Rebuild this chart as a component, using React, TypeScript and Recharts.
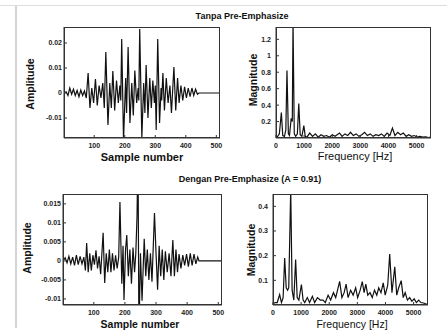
import { LineChart, Line, XAxis, YAxis } from "recharts";

// waveform extremes: [sample, amplitude]
const waveRaw: [number, number][] = [
  [1, 0], [8, 0.0005], [14, -0.001], [20, 0.002], [26, -0.0005], [32, 0.0015], [38, -0.001], [44, 0.001],
  [50, -0.0015], [56, 0.0012], [62, -0.001], [68, 0.0008], [74, -0.002],
  [80, 0.008], [86, -0.006], [92, 0.002], [98, -0.004], [104, 0.0056], [110, -0.005], [116, 0.003],
  [122, -0.002], [128, 0.004], [133, -0.006],
  [138, 0.0164], [145, -0.0128], [151, 0.004], [156, -0.006], [161, 0.0088], [167, -0.007], [173, 0.005],
  [179, -0.004], [184, 0.003], [187, -0.003],
  [190, 0.0216], [196, -0.019], [203, 0.006], [206, -0.008], [211, 0.0184], [217, -0.012], [223, 0.004],
  [228, -0.009], [233, 0.009], [239, -0.004], [244, 0.002], [246, -0.003],
  [249, 0.0256], [256, -0.018], [262, 0.004], [266, -0.008], [270, 0.0112], [276, -0.01], [282, 0.006],
  [287, -0.006], [292, 0.005], [297, -0.004], [300, 0.003],
  [303, -0.0148], [308, 0.0216], [314, -0.012], [319, 0.002], [321, -0.003], [325, 0.008], [330, -0.007],
  [336, 0.006], [342, -0.004], [348, 0.003], [353, -0.008],
  [361, 0.0104], [367, -0.007], [373, 0.006], [378, -0.004], [384, 0.003], [390, -0.003], [396, 0.0025],
  [402, -0.002], [408, 0.002], [414, -0.0015], [420, 0.002], [426, -0.001], [432, 0.0015], [438, -0.0005],
  [443, 0], [512, 0],
];

const wavePre: [number, number][] = [
  [1, 0], [8, 0.0008], [14, -0.0005], [20, 0.0012], [26, -0.0008], [32, 0.001], [38, -0.0012], [44, 0.0015],
  [50, -0.001], [56, 0.0012], [62, -0.0008], [68, 0.001], [73, -0.0025],
  [77, 0.0047], [82, -0.003], [87, 0.002], [92, -0.0025], [97, 0.0015], [102, -0.001], [107, 0.0028],
  [112, -0.002], [117, 0.0012], [122, -0.0035],
  [130, 0.0074], [135, -0.0058], [140, 0.002], [145, -0.003], [150, 0.003], [155, -0.003], [160, 0.002],
  [165, -0.0025], [170, 0.0015], [175, -0.002], [180, 0.001],
  [184, 0.0155], [190, -0.006], [194, 0.004], [197, -0.0103], [202, 0.003], [206, 0.0068], [211, -0.004],
  [216, 0.003], [221, -0.006], [226, 0.0035], [231, -0.003], [235, 0.002],
  [239, 0.0121], [242, 0.03], [245, -0.02], [250, 0.002], [255, -0.0105], [262, 0.0058], [267, -0.004],
  [272, 0.003], [277, -0.005], [282, 0.002], [287, -0.0055],
  [295, 0.0126], [300, 0.002], [305, -0.0076], [310, 0.004], [315, -0.004], [320, 0.003], [325, -0.005],
  [330, 0.0025], [336, -0.003], [342, 0.002], [348, -0.004],
  [354, 0.0055], [359, -0.004], [364, 0.003], [369, -0.003], [374, 0.0018], [380, -0.002], [386, 0.0015],
  [392, -0.0012], [398, 0.0018], [404, -0.0015], [410, 0.002], [416, -0.0012], [422, 0.0018], [428, -0.0008],
  [434, 0.001], [438, 0], [512, 0],
];

// magnitude spectra: [Hz, magnitude]
const specRaw: [number, number][] = [
  [0, 0.01], [60, 0.02], [120, 0.05], [190, 0.31], [240, 0.03], [300, 0.02], [350, 0.1], [390, 0.82],
  [440, 0.05], [480, 0.03], [540, 0.24], [580, 0.2], [605, 1.42], [650, 0.05], [700, 0.02], [760, 0.05],
  [810, 0.42], [860, 0.04], [920, 0.02], [990, 0.15], [1040, 0.02], [1100, 0.01], [1200, 0.06], [1300, 0.02],
  [1400, 0.05], [1500, 0.01], [1600, 0.04], [1700, 0.02], [1800, 0.03], [1900, 0.01], [2000, 0.04],
  [2100, 0.02], [2260, 0.06], [2350, 0.02], [2450, 0.05], [2550, 0.03], [2650, 0.07], [2750, 0.03],
  [2850, 0.05], [2950, 0.02], [3050, 0.04], [3150, 0.07], [3250, 0.03], [3350, 0.05], [3450, 0.02],
  [3550, 0.04], [3650, 0.03], [3750, 0.05], [3850, 0.02], [3950, 0.06], [4050, 0.03], [4140, 0.12],
  [4230, 0.03], [4330, 0.07], [4430, 0.04], [4530, 0.06], [4630, 0.02], [4720, 0.04], [4820, 0.02],
  [4920, 0.03], [5020, 0.01], [5120, 0.02], [5220, 0.01], [5320, 0.015], [5420, 0.005], [5512, 0.01],
];

const specPre: [number, number][] = [
  [0, 0.005], [80, 0.01], [150, 0.01], [237, 0.042], [300, 0.01], [360, 0.03], [415, 0.19], [470, 0.07],
  [520, 0.06], [560, 0.07], [630, 0.47], [680, 0.06], [740, 0.02], [805, 0.184], [860, 0.03], [920, 0.02],
  [1010, 0.083], [1070, 0.02], [1130, 0.01], [1220, 0.03], [1300, 0.01], [1400, 0.035], [1480, 0.01],
  [1580, 0.03], [1680, 0.02], [1780, 0.02], [1860, 0.01], [1960, 0.04], [2050, 0.02], [2150, 0.05],
  [2230, 0.03], [2370, 0.096], [2450, 0.03], [2530, 0.05], [2600, 0.085], [2670, 0.03], [2760, 0.06],
  [2850, 0.04], [2940, 0.07], [3010, 0.03], [3100, 0.06], [3175, 0.095], [3240, 0.05], [3300, 0.085],
  [3370, 0.04], [3450, 0.05], [3530, 0.03], [3610, 0.06], [3690, 0.04], [3760, 0.07], [3840, 0.05],
  [3920, 0.09], [3990, 0.04], [4080, 0.08], [4150, 0.207], [4230, 0.05], [4330, 0.155], [4400, 0.04],
  [4470, 0.07], [4560, 0.099], [4630, 0.03], [4700, 0.05], [4780, 0.02], [4860, 0.03], [4940, 0.015],
  [5020, 0.025], [5100, 0.01], [5180, 0.02], [5260, 0.01], [5350, 0.008], [5430, 0.005], [5512, 0.003],
];

const sampleTicks = [100, 200, 300, 400, 500];
const freqTicks = [0, 1000, 2000, 3000, 4000, 5000];
const ampTicksRaw = [-0.01, 0, 0.01, 0.02];
const ampTicksPre = [-0.01, -0.005, 0, 0.005, 0.01, 0.015];
const magTicksRaw = [0.2, 0.4, 0.6, 0.8, 1, 1.2];
const magTicksPre = [0.1, 0.2, 0.3, 0.4];

const FONT = "'Liberation Sans', Arial, sans-serif";
const AXIS = "#333";
const YW = 40;
const XH = 20;
const tickStyle = { fontSize: 7, fontWeight: "bold" as const, fill: "#222", fontFamily: FONT };

interface PanelProps {
  points: [number, number][];
  left: number;
  top: number;
  plotW: number;
  plotH: number;
  xDomain: [number, number];
  xTicks: number[];
  yDomain: [number, number];
  yTicks: number[];
  yTickMargin: number;
}

const Panel = ({ points, left, top, plotW, plotH, xDomain, xTicks, yDomain, yTicks, yTickMargin }: PanelProps) => {
  const data = points.map(([x, y]) => ({ x, y }));
  return (
    <>
      <div style={{ position: "absolute", left: left - YW, top: top - 5 }}>
        <LineChart
          width={YW + plotW + 12}
          height={5 + plotH + XH}
          data={data}
          margin={{ top: 5, right: 12, left: 0, bottom: 0 }}
        >
          <XAxis
            dataKey="x"
            type="number"
            domain={xDomain}
            ticks={xTicks}
            allowDataOverflow
            height={XH}
            stroke={AXIS}
            tick={tickStyle}
            tickSize={-3}
            tickMargin={8}
          />
          <YAxis
            type="number"
            domain={yDomain}
            ticks={yTicks}
            allowDataOverflow
            width={YW}
            stroke={AXIS}
            tick={tickStyle}
            tickSize={-3}
            tickMargin={yTickMargin}
          />
          <Line
            dataKey="y"
            type="linear"
            stroke="#111"
            strokeWidth={1.2}
            dot={false}
            isAnimationActive={false}
          />
        </LineChart>
      </div>
      {/* box frame around the plot area */}
      <div
        style={{
          position: "absolute",
          left: left,
          top: top,
          width: plotW,
          height: plotH,
          border: `1px solid ${AXIS}`,
          boxSizing: "border-box",
          pointerEvents: "none",
        }}
      />
    </>
  );
};

const textAt = (x: number, y: number, size: number, bold: boolean, rotate = false): React.CSSProperties => ({
  position: "absolute",
  left: x,
  top: y,
  transform: `translate(-50%, -50%)${rotate ? " rotate(-90deg)" : ""}`,
  fontSize: size,
  fontWeight: bold ? "bold" : "normal",
  whiteSpace: "nowrap",
  color: "#111",
  lineHeight: 1,
});

export default function App() {
  return (
    <div
      style={{
        position: "absolute",
        left: 0,
        top: 0,
        width: 447,
        height: 335,
        background: "#fff",
        fontFamily: FONT,
        overflow: "hidden",
      }}
    >
      <div style={{ position: "absolute", left: 0, top: 5, width: 447, height: 1, background: "#ddd" }} />
      <div style={{ position: "absolute", left: 15, top: 6, width: 2, height: 322, background: "#d4d4d4" }} />

      <div style={textAt(242, 16, 9, true)}>Tanpa Pre-Emphasize</div>
      <div style={textAt(250, 179, 9, true)}>Dengan Pre-Emphasize (A = 0.91)</div>

      <Panel points={waveRaw} left={64} top={27} plotW={156} plotH={111}
        xDomain={[1, 512]} xTicks={sampleTicks} yDomain={[-0.018, 0.0264]} yTicks={ampTicksRaw} yTickMargin={5} />
      <Panel points={specRaw} left={276} top={27} plotW={155} plotH={111}
        xDomain={[0, 5512]} xTicks={freqTicks} yDomain={[0, 1.35]} yTicks={magTicksRaw} yTickMargin={8} />
      <Panel points={wavePre} left={63} top={194} plotW={159} plotH={111}
        xDomain={[1, 512]} xTicks={sampleTicks} yDomain={[-0.0116, 0.0176]} yTicks={ampTicksPre} yTickMargin={5} />
      <Panel points={specPre} left={273} top={194} plotW={155} plotH={111}
        xDomain={[0, 5512]} xTicks={freqTicks} yDomain={[0, 0.45]} yTicks={magTicksPre} yTickMargin={8} />

      <div style={textAt(30, 84, 10.5, true, true)}>Amplitude</div>
      <div style={textAt(142, 157, 11, true)}>Sample number</div>
      <div style={textAt(253, 80, 10.5, true, true)}>Magnitude</div>
      <div style={textAt(355, 156, 11, false)}>Frequency [Hz]</div>

      <div style={textAt(27, 248, 10.5, true, true)}>Amplitude</div>
      <div style={textAt(140, 324, 10.5, true)}>Sample number</div>
      <div style={textAt(251, 250, 10.5, true, true)}>Magnitude</div>
      <div style={textAt(352, 324, 10.5, false)}>Frequency [Hz]</div>
    </div>
  );
}
